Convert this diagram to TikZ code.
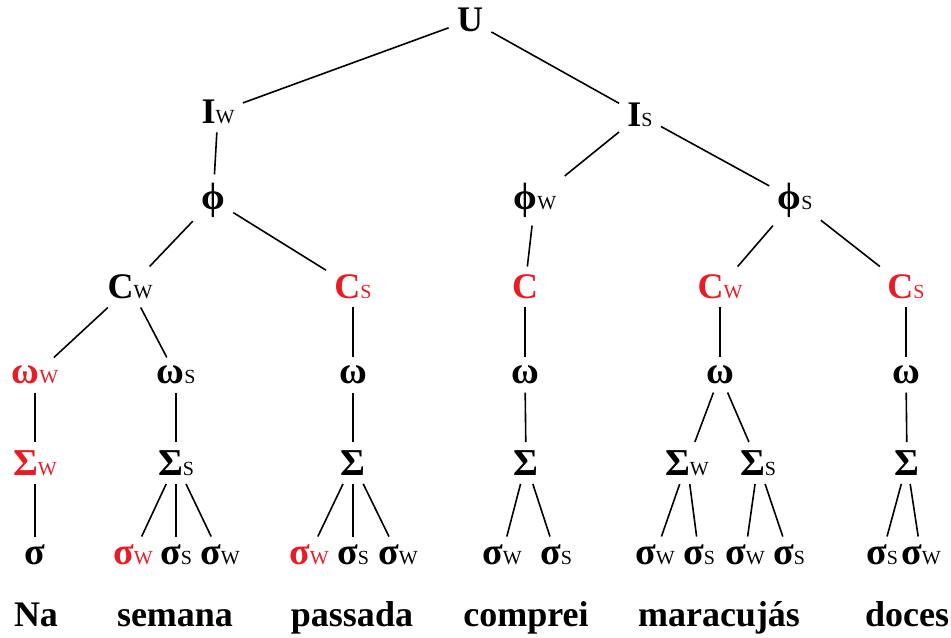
\documentclass[tikz,border=0pt]{standalone}
\usepackage{fontspec}
\setmainfont{Liberation Serif}
\usepackage{xcolor}
\usetikzlibrary{positioning}
\definecolor{stressred}{RGB}{232,28,36}
\newcommand{\subw}{{\fontsize{10}{10}\selectfont\mdseries W}}
\newcommand{\subs}{{\fontsize{10}{10}\selectfont\mdseries S}}

\begin{document}
\begin{tikzpicture}[
  x=0.5pt, y=-0.5pt,
  lab/.style={font=\fontsize{19}{22}\selectfont\bfseries, inner sep=4pt},
  hd/.style={lab, font=\fontsize{18}{22}\selectfont\bfseries},
  strong/.style={text=stressred},
  word/.style={font=\fontsize{18}{22}\selectfont\bfseries, inner sep=2pt, anchor=base},
  edge/.style={line width=0.8pt, black}
]
\useasboundingbox (0,0) rectangle (951,637);

% Intonational level
\node[hd] (U) at (470,20) {U};
\node[hd] (Iw) at (218,112) {I\subw};
\node[hd] (Is) at (640,115) {I\subs};

% Phonological phrases
\node[lab] (phi) at (213,200) {ϕ};
\node[lab] (phiw) at (535,200) {ϕ\subw};
\node[lab] (phis) at (795,200) {ϕ\subs};

% Clitic groups
\node[hd] (Cw1) at (130,287) {C\subw};
\node[hd, strong] (Cs1) at (353,287) {C\subs};
\node[hd, strong] (C) at (525,287) {C};
\node[hd, strong] (Cw2) at (720,287) {C\subw};
\node[hd, strong] (Cs2) at (906,287) {C\subs};

% Phonological words
\node[lab, strong] (wNa) at (35,375) {ω\subw};
\node[lab] (wSem) at (176,375) {ω\subs};
\node[lab] (wPas) at (353,375) {ω};
\node[lab] (wCom) at (525,375) {ω};
\node[lab] (wMar) at (720,375) {ω};
\node[lab] (wDoc) at (906,375) {ω};

% Feet
\node[lab, strong] (fNa) at (35,463) {Σ\subw};
\node[lab] (fSem) at (176,463) {Σ\subs};
\node[lab] (fPas) at (353,463) {Σ};
\node[lab] (fCom) at (526,463) {Σ};
\node[lab] (fMarw) at (687,463) {Σ\subw};
\node[lab] (fMars) at (758,463) {Σ\subs};
\node[lab] (fDoc) at (907,463) {Σ};

% Syllables
\node[lab] (sNa) at (35,555) {σ};
\node[lab, strong] (sSem1) at (133,555) {σ\subw};
\node[lab] (sSem2) at (176,555) {σ\subs};
\node[lab] (sSem3) at (220,555) {σ\subw};
\node[lab, strong] (sPas1) at (309,555) {σ\subw};
\node[lab] (sPas2) at (353,555) {σ\subs};
\node[lab] (sPas3) at (398,555) {σ\subw};
\node[lab] (sCom1) at (502,555) {σ\subw};
\node[lab] (sCom2) at (556,555) {σ\subs};
\node[lab] (sMar1) at (655,555) {σ\subw};
\node[lab] (sMar2) at (699,555) {σ\subs};
\node[lab] (sMar3) at (745,555) {σ\subw};
\node[lab] (sMar4) at (789,555) {σ\subs};
\node[lab] (sDoc1) at (882,555) {σ\subs};
\node[lab] (sDoc2) at (921,555) {σ\subw};

% Words
\node[word] (na) at (36,626) {Na};
\node[word] (semana) at (175,626) {semana};
\node[word] (passada) at (352,626) {passada};
\node[word] (comprei) at (526,626) {comprei};
\node[word] (maracujas) at (719,626) {maracujás};
\node[word] (doces) at (907,626) {doces};

% Branches
\draw[edge] (U) -- (Iw);
\draw[edge] (U) -- (Is);
\draw[edge] (Iw) -- (phi);
\draw[edge] (Is) -- (phiw);
\draw[edge] (Is) -- (phis);
\draw[edge] (phi) -- (Cw1);
\draw[edge] (phi) -- (Cs1);
\draw[edge] (phiw) -- (C);
\draw[edge] (phis) -- (Cw2);
\draw[edge] (phis) -- (Cs2);
\draw[edge] (Cw1) -- (wNa);
\draw[edge] (Cw1) -- (wSem);
\draw[edge] (Cs1) -- (wPas);
\draw[edge] (C) -- (wCom);
\draw[edge] (Cw2) -- (wMar);
\draw[edge] (Cs2) -- (wDoc);
\draw[edge] (wNa) -- (fNa);
\draw[edge] (wSem) -- (fSem);
\draw[edge] (wPas) -- (fPas);
\draw[edge] (wCom) -- (fCom);
\draw[edge] (wMar) -- (fMarw);
\draw[edge] (wMar) -- (fMars);
\draw[edge] (wDoc) -- (fDoc);
\draw[edge] (fNa) -- (sNa);
\draw[edge] (fSem) -- (sSem1);
\draw[edge] (fSem) -- (sSem2);
\draw[edge] (fSem) -- (sSem3);
\draw[edge] (fPas) -- (sPas1);
\draw[edge] (fPas) -- (sPas2);
\draw[edge] (fPas) -- (sPas3);
\draw[edge] (fCom) -- (sCom1);
\draw[edge] (fCom) -- (sCom2);
\draw[edge] (fMarw) -- (sMar1);
\draw[edge] (fMarw) -- (sMar2);
\draw[edge] (fMars) -- (sMar3);
\draw[edge] (fMars) -- (sMar4);
\draw[edge] (fDoc) -- (sDoc1);
\draw[edge] (fDoc) -- (sDoc2);

\end{tikzpicture}
\end{document}
